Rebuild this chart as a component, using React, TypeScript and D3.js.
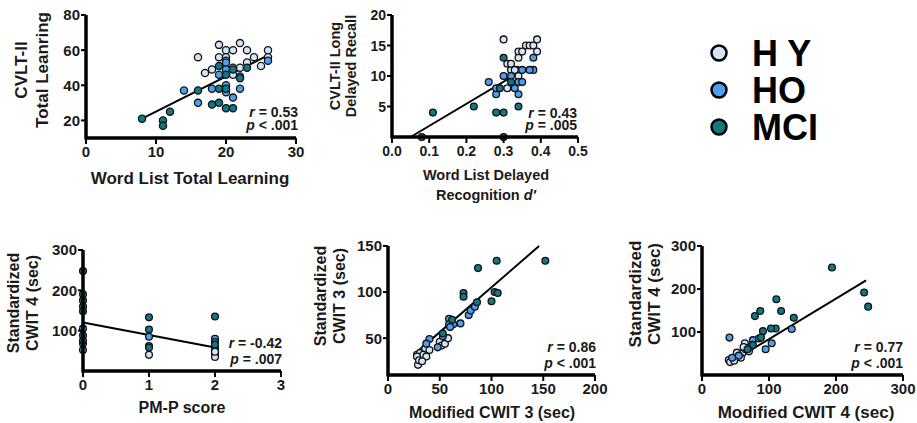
import React from 'react';
import * as d3 from 'd3';

// group colours
const groupNames = ['H Y', 'HO', 'MCI'];
const groupColors = ['#d3e6f9', '#4f9ef0', '#0f7886'];

// panel 1: Word List Total Learning vs CVLT-II Total Learning
const p1HY = [[16, 56], [17, 47], [18, 49], [19, 63], [19, 56], [20, 60], [20, 56], [20, 54], [21, 60], [22, 64], [23, 60], [23, 53], [24, 56], [25, 51], [26, 60], [26, 56], [21, 46], [22, 50], [21, 50]];
const p1HO = [[14, 37], [16, 30], [18, 38], [20, 36], [21, 33], [19, 46], [20, 53], [20, 49], [22, 38], [22, 45], [26, 54], [20, 40]];
const p1MCI = [[8, 21], [11, 20], [11, 17], [12, 25], [16, 37], [18, 29], [19, 30], [19, 38], [20, 38], [20, 27], [21, 27], [19, 51], [20, 46], [22, 44], [23, 50], [21, 49]];
const p1Line = [[8, 21], [26, 57]];
const p1XTicks = [0, 10, 20, 30];
const p1YTicks = [20, 40, 60, 80];

// panel 2: Word List Delayed Recognition d' vs CVLT-II Long Delayed Recall
const p2HY = [[0.30, 16], [0.31, 12], [0.32, 11], [0.335, 11], [0.34, 14], [0.34, 13], [0.36, 15], [0.37, 15], [0.38, 15], [0.39, 16], [0.39, 14], [0.34, 10], [0.31, 8], [0.32, 12], [0.33, 11], [0.35, 14]];
const p2HO = [[0.38, 13], [0.26, 9], [0.28, 7], [0.30, 10], [0.32, 10], [0.35, 11], [0.38, 11], [0.34, 9], [0.35, 9], [0.28, 8], [0.33, 8], [0.34, 7], [0.37, 11]];
const p2MCI = [[0.30, 13], [0.29, 8], [0.22, 5], [0.11, 4], [0.28, 4], [0.30, 4], [0.34, 5], [0.08, 0], [0.30, 0], [0.32, 9]];
const p2Line = [[0.05, 0], [0.32, 9.8]];
const p2XTicks = [0, 0.1, 0.2, 0.3, 0.4, 0.5];
const p2YTicks = [5, 10, 15, 20];

// panel 3: PM-P score vs Standardized CWIT 4
const p3HY = [[1, 40], [2, 60], [2, 55], [2, 42], [2, 35], [2, 48]];
const p3HO = [[0, 105], [0, 68], [0, 52], [1, 85], [1, 62], [2, 80], [2, 72]];
const p3MCI = [[0, 248], [0, 190], [0, 175], [0, 160], [0, 148], [0, 88], [0, 75], [1, 133], [1, 103], [1, 58], [2, 135], [2, 66]];
const p3Line = [[0, 120], [2, 58]];
const p3XTicks = [0, 1, 2, 3];
const p3YTicks = [100, 200, 300];

// panel 4: Modified CWIT 3 vs Standardized CWIT 3
const p4HY = [[28, 32], [31, 34], [34, 32], [28, 30], [29, 21], [30, 26], [36, 39], [40, 37], [50, 46], [52, 42], [55, 44], [58, 50], [37, 30], [33, 25]];
const p4HO = [[40, 49], [37, 44], [53, 52], [59, 71], [59, 65], [63, 65], [70, 66], [78, 75], [80, 80], [84, 84], [48, 40], [60, 62]];
const p4MCI = [[105, 134], [87, 126], [73, 99], [73, 95], [103, 100], [106, 99], [100, 90], [86, 89], [152, 134], [62, 70], [53, 55]];
const p4Line = [[30, 37], [146, 150]];
const p4XTicks = [0, 50, 100, 150, 200];
const p4YTicks = [50, 100, 150];

// panel 5: Modified CWIT 4 vs Standardized CWIT 4
const p5HY = [[40, 35], [45, 38], [50, 42], [55, 45], [60, 50], [65, 60], [64, 74], [42, 30], [48, 33], [58, 40], [70, 55], [62, 65], [52, 52]];
const p5HO = [[134, 107], [41, 87], [104, 74], [95, 60], [76, 81], [72, 65], [55, 45], [45, 40], [85, 85]];
const p5MCI = [[194, 250], [242, 192], [248, 159], [111, 176], [87, 149], [79, 137], [118, 149], [137, 133], [110, 108], [103, 108], [91, 102], [88, 87], [76, 70], [68, 60]];
const p5Line = [[40, 27], [245, 220]];
const p5XTicks = [0, 100, 200, 300];
const p5YTicks = [100, 200, 300];

const FONT = '"Liberation Sans", Arial, sans-serif';
const INK = '#1a1a1a';

type Pt = number[];

interface PanelProps {
  xDomain: number[]; xRange: number[];
  yDomain: number[]; yRange: number[];
  xTicks: number[]; yTicks: number[];
  xFmt?: (d: number) => string;
  series: Pt[][];
  line: Pt[];
  yTitle: string[]; yTitleX: number[]; yTitleCy: number;
  xTitle: React.ReactNode[]; xTitleY: number[]; xTitleCx: number;
  stat: string[]; statX: number; statY: number[];
  tickSize?: number; titleSize?: number; radius?: number;
}

function Panel(p: PanelProps) {
  const x = d3.scaleLinear().domain(p.xDomain).range(p.xRange);
  const y = d3.scaleLinear().domain(p.yDomain).range(p.yRange);
  const fmt = p.xFmt || ((d: number) => String(d));
  const ts = p.tickSize || 15;
  const tt = p.titleSize || 16;
  const r = p.radius || 3.6;
  const x0 = p.xRange[0];
  const yb = p.yRange[0];
  const lineGen = d3.line<Pt>().x(d => x(d[0])).y(d => y(d[1]));
  return (
    <g fontFamily={FONT} fontWeight="bold" fill={INK}>
      <path d={lineGen(p.line) || ''} stroke="#000" strokeWidth={2} fill="none" />
      {p.series.map((s, gi) => (
        <g key={gi}>
          {s.map((d, i) => (
            <circle key={i} cx={x(d[0])} cy={y(d[1])} r={r} fill={groupColors[gi]} stroke="#111" strokeWidth={1.3} />
          ))}
        </g>
      ))}
      {/* axes */}
      <line x1={x0} x2={p.xRange[1]} y1={yb} y2={yb} stroke="#000" strokeWidth={3.5} />
      <line x1={x0} x2={x0} y1={yb + 1.5} y2={p.yRange[1]} stroke="#000" strokeWidth={3.5} />
      {p.xTicks.map(t => (
        <g key={'x' + t}>
          <line x1={x(t)} x2={x(t)} y1={yb} y2={yb + 6} stroke="#000" strokeWidth={2} />
          <text x={x(t)} y={yb + 19} fontSize={ts} textAnchor="middle">{fmt(t)}</text>
        </g>
      ))}
      {p.yTicks.map(t => (
        <g key={'y' + t}>
          <line x1={x0 - 5} x2={x0} y1={y(t)} y2={y(t)} stroke="#000" strokeWidth={2} />
          <text x={x0 - 6} y={y(t)} dy="0.36em" fontSize={ts} textAnchor="end">{t}</text>
        </g>
      ))}
      {p.yTitle.map((s, i) => (
        <text key={'yt' + i} transform={`translate(${p.yTitleX[i]},${p.yTitleCy}) rotate(-90)`} fontSize={tt}
          textAnchor="middle" dominantBaseline="central">{s}</text>
      ))}
      {p.xTitle.map((s, i) => (
        <text key={'xt' + i} x={p.xTitleCx} y={p.xTitleY[i]} fontSize={tt} textAnchor="middle">{s}</text>
      ))}
      {p.stat.map((s, i) => (
        <text key={'st' + i} x={p.statX} y={p.statY[i]} fontSize={14} textAnchor="end">
          <tspan fontStyle="italic">{i === 0 ? 'r' : 'p'}</tspan>{s}
        </text>
      ))}
    </g>
  );
}

export default function App() {
  const fmt1 = (d: number) => d.toFixed(1);
  return (
    <svg width={917} height={423} style={{ position: 'absolute', left: 0, top: 0, background: '#fff' }}>
      <Panel xDomain={[0, 30]} xRange={[86, 296]} yDomain={[10, 80]} yRange={[138, 15]}
        xTicks={p1XTicks} yTicks={p1YTicks} series={[p1HY, p1HO, p1MCI]} line={p1Line}
        yTitle={['CVLT-II', 'Total Leanring']} yTitleX={[21, 42]} yTitleCy={70}
        xTitle={['Word List Total Learning']} xTitleY={[184]} xTitleCx={190}
        stat={[' = 0.53', ' < .001']} statX={298} statY={[117, 130]} titleSize={17} radius={3.6} />
      <Panel xDomain={[0, 0.5]} xRange={[392, 578]} yDomain={[0, 20]} yRange={[137, 15]}
        xTicks={p2XTicks} yTicks={p2YTicks} xFmt={fmt1} series={[p2HY, p2HO, p2MCI]} line={p2Line}
        yTitle={['CVLT-II Long', 'Delayed Recall']} yTitleX={[335, 351]} yTitleCy={66}
        xTitle={['Word List Delayed', <>Recognition <tspan fontStyle="italic">d′</tspan></>]} xTitleY={[180, 200]} xTitleCx={486}
        stat={[' = 0.43', ' = .005']} statX={577} statY={[118, 130]} tickSize={14} titleSize={14.5} radius={3.4} />
      <Panel xDomain={[0, 3]} xRange={[83, 281]} yDomain={[0, 300]} yRange={[371, 250]}
        xTicks={p3XTicks} yTicks={p3YTicks} series={[p3HY, p3HO, p3MCI]} line={p3Line}
        yTitle={['Standardized', 'CWIT 4 (sec)']} yTitleX={[13, 32]} yTitleCy={303}
        xTitle={['PM-P score']} xTitleY={[413]} xTitleCx={182}
        stat={[' = -0.42', ' = .007']} statX={282} statY={[348, 364]} tickSize={15} titleSize={16} radius={3.4} />
      <Panel xDomain={[0, 200]} xRange={[388, 595]} yDomain={[10, 150]} yRange={[375, 246]}
        xTicks={p4XTicks} yTicks={p4YTicks} series={[p4HY, p4HO, p4MCI]} line={p4Line}
        yTitle={['Standardized', 'CWIT 3 (sec)']} yTitleX={[320, 339]} yTitleCy={296}
        xTitle={['Modified CWIT 3 (sec)']} xTitleY={[418]} xTitleCx={492}
        stat={[' = 0.86', ' < .001']} statX={596} statY={[352, 368]} tickSize={15} titleSize={16} radius={3.4} />
      <Panel xDomain={[0, 300]} xRange={[702, 903]} yDomain={[0, 300]} yRange={[375, 246]}
        xTicks={p5XTicks} yTicks={p5YTicks} series={[p5HY, p5HO, p5MCI]} line={p5Line}
        yTitle={['Standardized', 'CWIT 4 (sec)']} yTitleX={[635, 654]} yTitleCy={294}
        xTitle={['Modified CWIT 4 (sec)']} xTitleY={[418]} xTitleCx={806}
        stat={[' = 0.77', ' < .001']} statX={903} statY={[352, 368]} tickSize={15} titleSize={17} radius={3.4} />
      {/* legend */}
      <g fontFamily={FONT} fontWeight="bold" fill="#000">
        {groupNames.map((g, i) => (
          <g key={g}>
            <circle cx={719} cy={53 + i * 37} r={7.5} fill={groupColors[i]} stroke="#000" strokeWidth={2.5} />
            <text x={752} y={66 + i * 37} fontSize={36}>{g}</text>
          </g>
        ))}
      </g>
    </svg>
  );
}
